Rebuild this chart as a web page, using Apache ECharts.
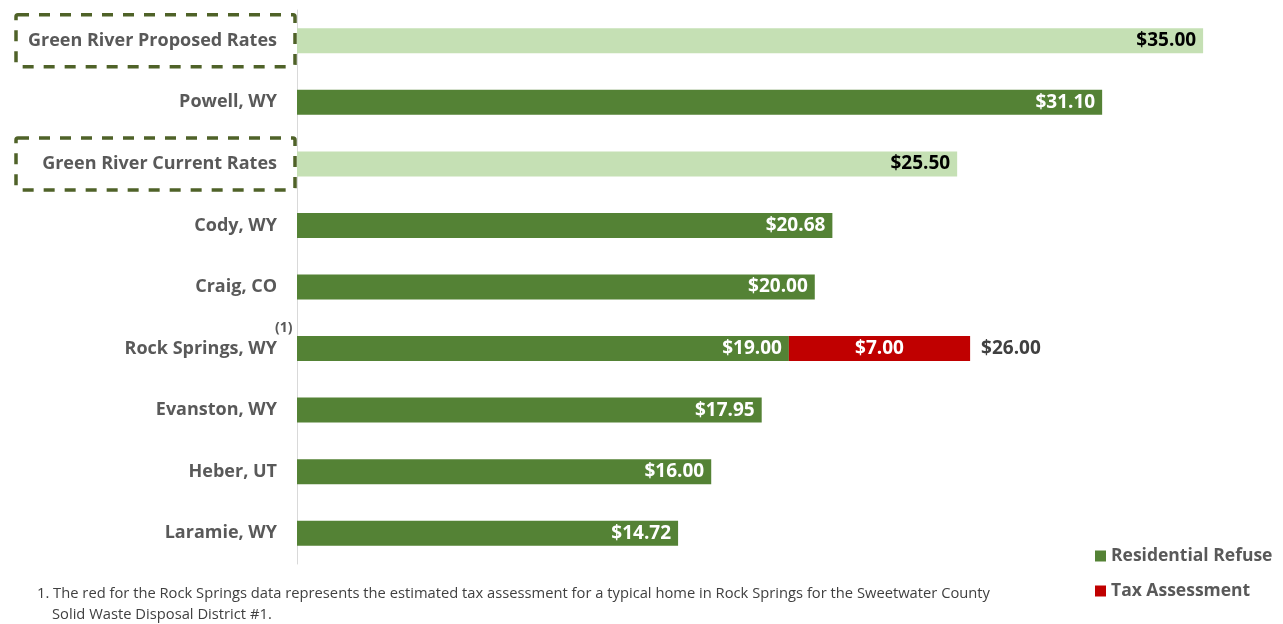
<!DOCTYPE html>
<html>
<head>
<meta charset="utf-8">
<script src="https://cdn.jsdelivr.net/npm/echarts@6/dist/echarts.min.js"></script>
<style>
  html, body { margin: 0; padding: 0; background: #fff; }
  #chart { width: 1283px; height: 624px; }
</style>
</head>
<body>
<div id="chart"></div>
<script>
// categories top to bottom
const cities = [
  "Green River Proposed Rates", "Powell, WY", "Green River Current Rates",
  "Cody, WY", "Craig, CO", "Rock Springs, WY", "Evanston, WY", "Heber, UT", "Laramie, WY"
];
const refuse = [35.00, 31.10, 25.50, 20.68, 20.00, 19.00, 17.95, 16.00, 14.72];
const tax = [null, null, null, null, null, 7.00, null, null, null];
const totals = [null, null, null, null, null, 26.00, null, null, null];
const highlighted = ["Green River Proposed Rates", "Green River Current Rates"];
const footnote = [
  "1. The red for the Rock Springs data represents the estimated tax assessment for a typical home in Rock Springs for the Sweetwater County",
  "Solid Waste Disposal District #1."
];

const fmt = v => "$" + v.toFixed(2);
const font = "'Open Sans', sans-serif";

const chart = echarts.init(document.getElementById("chart"));

chart.setOption({
  animation: false,
  textStyle: { fontFamily: font },
  grid: { left: 297, top: 10, bottom: 60, right: 54 },
  legend: {
    data: ["Residential Refuse", "Tax Assessment"],
    orient: "vertical",
    left: 1090,
    top: 542,
    itemWidth: 11,
    itemHeight: 11,
    itemGap: 17,
    icon: "rect",
    textStyle: { fontSize: 17.5, fontWeight: "bold", color: "#595959", fontFamily: font }
  },
  xAxis: {
    type: "value",
    min: 0,
    max: 36,
    show: false
  },
  yAxis: {
    type: "category",
    inverse: true,
    data: cities,
    axisLine: { show: true, lineStyle: { color: "#d9d9d9", width: 1 } },
    axisTick: { show: false },
    axisLabel: { margin: 20, fontSize: 18, fontWeight: "bold", color: "#595959", fontFamily: font }
  },
  series: [
    {
      name: "Residential Refuse",
      type: "bar",
      stack: "a",
      barWidth: 25,
      itemStyle: { color: "#548235" },
      data: refuse.map((v, i) => highlighted.includes(cities[i])
        ? { value: v, itemStyle: { color: "#c5e0b4" }, label: { color: "#000" } }
        : v),
      label: {
        show: true, position: "insideRight", distance: 7,
        formatter: p => fmt(p.value),
        fontSize: 19, fontWeight: "bold", color: "#fff", fontFamily: font
      }
    },
    {
      name: "Tax Assessment",
      type: "bar",
      stack: "a",
      barWidth: 25,
      itemStyle: { color: "#c00000" },
      data: tax,
      label: {
        show: true, position: "inside",
        formatter: p => fmt(p.value),
        fontSize: 19, fontWeight: "bold", color: "#fff", fontFamily: font
      }
    },
    {
      name: "Total",
      type: "bar",
      stack: "a",
      barWidth: 25,
      itemStyle: { color: "transparent" },
      data: totals.map(t => t == null ? null : 0),
      label: {
        show: true, position: "right", distance: 11,
        formatter: p => fmt(totals[p.dataIndex]),
        fontSize: 19, fontWeight: "bold", color: "#404040", fontFamily: font
      }
    }
  ]
});

// dashed boxes around Green River labels, the (1) marker and the footnote
const boxes = highlighted.map(name => {
  const y = chart.convertToPixel({ yAxisIndex: 0 }, name);
  return {
    type: "rect",
    shape: { x: 16, y: y - 26, width: 279, height: 52, r: 2 },
    style: { fill: "none", stroke: "#4f6228", lineWidth: 3.5, lineDash: [11, 10] }
  };
});
const rsY = chart.convertToPixel({ yAxisIndex: 0 }, "Rock Springs, WY");

// squeeze the footnote to the condensed width of the original
const noteFont = "14px 'Open Sans', sans-serif";
const ctx = document.createElement("canvas").getContext("2d");
ctx.font = noteFont;
const noteScale = 953 / ctx.measureText(footnote[0]).width;

chart.setOption({
  graphic: boxes.concat([
    {
      type: "text", x: 275, y: rsY - 28,
      style: { text: "(1)", fontSize: 14, fontWeight: "bold", fill: "#595959", fontFamily: font }
    },
    {
      type: "text", x: 37, y: 587, scaleX: noteScale,
      style: { text: footnote[0], fontSize: 14, fill: "#404040", fontFamily: font }
    },
    {
      type: "text", x: 52, y: 608, scaleX: noteScale,
      style: { text: footnote[1], fontSize: 14, fill: "#404040", fontFamily: font }
    }
  ])
});
</script>
</body>
</html>
